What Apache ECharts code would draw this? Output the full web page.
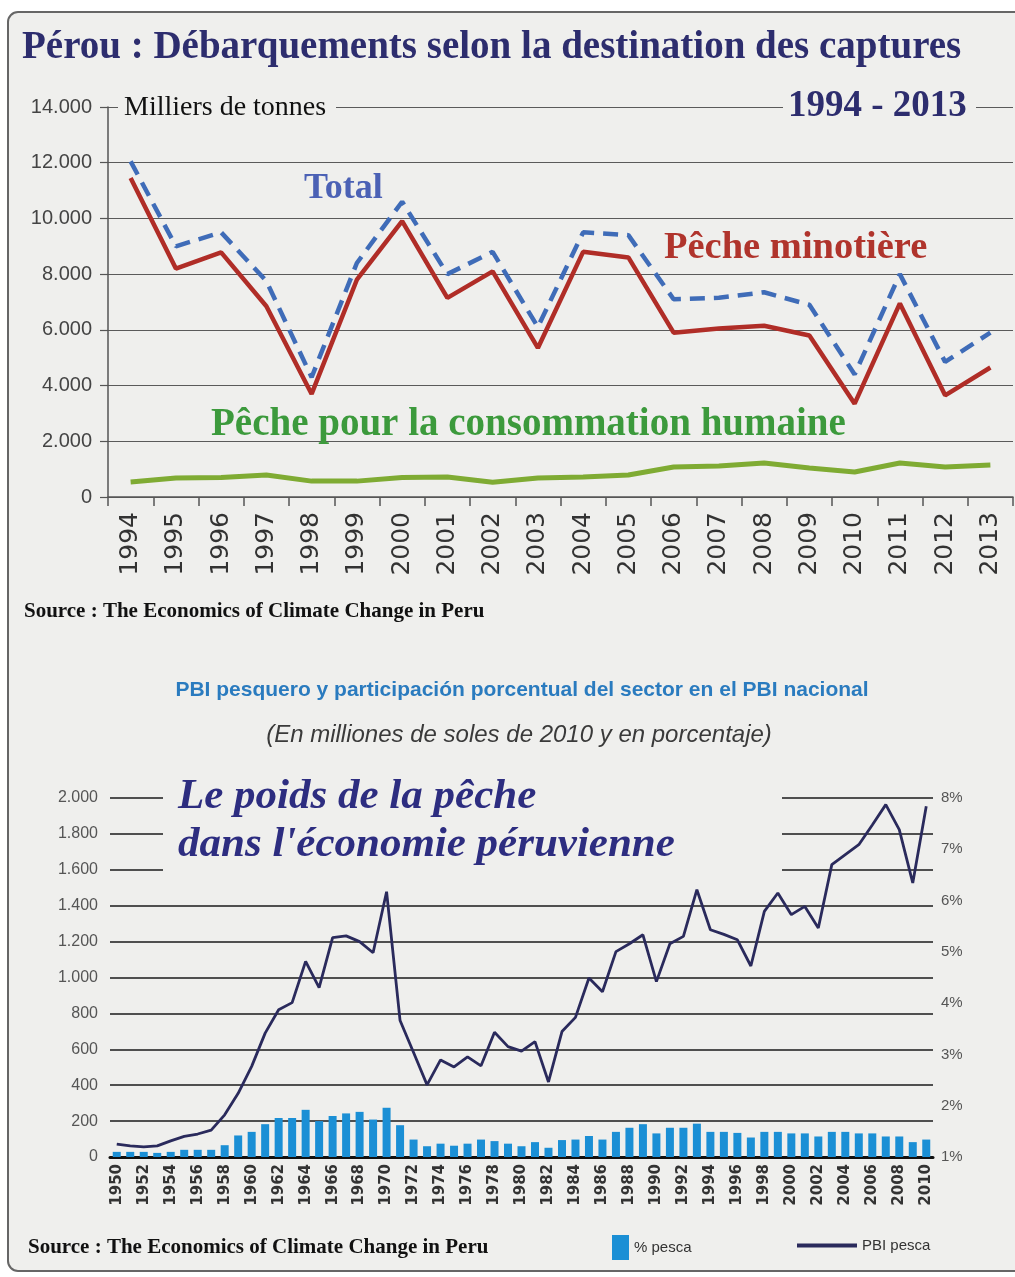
<!DOCTYPE html>
<html>
<head>
<meta charset="utf-8">
<script src="https://cdn.jsdelivr.net/npm/echarts@6/dist/echarts.min.js"></script>
<style>
html,body{margin:0;padding:0;background:#ffffff;}
#chart{width:1015px;height:1277px;}
</style>
</head>
<body>
<div id="chart"></div>
<script>
// ---- Top chart: landings by destination (thousand tonnes) ----
const topYears = ['1994','1995','1996','1997','1998','1999','2000','2001','2002','2003','2004','2005','2006','2007','2008','2009','2010','2011','2012','2013'];
const totalLandings = [12050, 9000, 9500, 7750, 4300, 8400, 10600, 8000, 8800, 6100, 9500, 9400, 7100, 7150, 7350, 6900, 4400, 8000, 4850, 5900];
const peche_minotiere = [11450, 8200, 8780, 6850, 3700, 7800, 9900, 7150, 8100, 5350, 8800, 8600, 5900, 6050, 6150, 5800, 3350, 6950, 3650, 4650];
const conso_humaine = [540, 680, 700, 790, 570, 570, 700, 720, 530, 680, 720, 790, 1080, 1110, 1220, 1040, 900, 1220, 1080, 1150];

// ---- Bottom chart: fishing GDP and share ----
const pbiYears = ['1950','1951','1952','1953','1954','1955','1956','1957','1958','1959',
  '1960','1961','1962','1963','1964','1965','1966','1967','1968','1969',
  '1970','1971','1972','1973','1974','1975','1976','1977','1978','1979',
  '1980','1981','1982','1983','1984','1985','1986','1987','1988','1989',
  '1990','1991','1992','1993','1994','1995','1996','1997','1998','1999',
  '2000','2001','2002','2003','2004','2005','2006','2007','2008','2009','2010'];
const pescaShare = [1.10,1.10,1.10,1.08,1.10,1.14,1.14,1.14,1.23,1.42,
  1.49,1.64,1.76,1.76,1.92,1.70,1.80,1.85,1.88,1.73,
  1.96,1.62,1.34,1.21,1.26,1.22,1.26,1.34,1.31,1.26,
  1.21,1.29,1.18,1.33,1.34,1.41,1.34,1.49,1.57,1.64,
  1.46,1.57,1.57,1.65,1.49,1.49,1.47,1.38,1.49,1.49,
  1.46,1.46,1.40,1.49,1.49,1.46,1.46,1.40,1.40,1.29,1.34];
const pbiPesca = [72,62,56,62,90,115,128,150,235,355,
  505,690,820,860,1090,943,1222,1232,1200,1138,
  1478,760,582,402,541,502,558,508,695,615,
  590,643,418,699,778,997,921,1144,1188,1238,
  977,1188,1229,1489,1266,1240,1210,1064,1368,1471,
  1350,1396,1276,1629,1685,1740,1850,1963,1824,1527,1954];

const leftTicksTop = [0,2000,4000,6000,8000,10000,12000,14000];

function thousands(v){
  const s = String(Math.round(v));
  return s.length > 3 ? s.slice(0, s.length-3) + '.' + s.slice(s.length-3) : s;
}

const BG = '#efefed';
const chart = echarts.init(document.getElementById('chart'), null, {renderer:'canvas'});

const option = {
  animation: false,
  backgroundColor: '#ffffff',
  grid: [
    {left: 108, right: 2, top: 107, bottom: 780},
    {left: 110, right: 82, top: 798, bottom: 120}
  ],
  xAxis: [
    {gridIndex: 0, type: 'category', data: topYears, boundaryGap: true,
     axisLine: {lineStyle: {color: '#555', width: 1.5}},
     axisTick: {show: true, length: 9, lineStyle: {color: '#555', width: 1.5}},
     axisLabel: {rotate: 90, fontFamily: 'DejaVu Sans', fontSize: 25, color: '#333', margin: 15}},
    {gridIndex: 1, type: 'category', data: pbiYears, boundaryGap: true,
     axisLine: {lineStyle: {color: '#111', width: 3}},
     axisTick: {show: false},
     axisLabel: {interval: 1, rotate: 90, fontFamily: 'DejaVu Sans', fontWeight: 'bold', fontSize: 15, color: '#333', margin: 7}}
  ],
  yAxis: [
    {gridIndex: 0, type: 'value', min: leftTicksTop[0], max: leftTicksTop[leftTicksTop.length-1], interval: 2000,
     axisLine: {show: true, lineStyle: {color: '#555', width: 1.5}},
     axisTick: {show: true, length: 8, lineStyle: {color: '#555', width: 1.2}},
     splitLine: {lineStyle: {color: '#5a5a5a', width: 1.2}},
     axisLabel: {formatter: thousands, fontFamily: 'Liberation Sans', fontSize: 20, color: '#444', margin: 16}},
    {gridIndex: 1, type: 'value', min: 0, max: 2000, interval: 200,
     axisLine: {show: false}, axisTick: {show: false},
     splitLine: {lineStyle: {color: '#1a1a1a', width: 1.6}},
     axisLabel: {formatter: thousands, fontFamily: 'Liberation Sans', fontSize: 16, color: '#555', margin: 12}},
    {gridIndex: 1, type: 'value', position: 'right', min: 1, max: 8, interval: 1,
     axisLine: {show: false}, axisTick: {show: false}, splitLine: {show: false},
     axisLabel: {formatter: '{value}%', fontFamily: 'Liberation Sans', fontSize: 15, color: '#555', margin: 8}}
  ],
  legend: [
    {data: [{name: '% pesca', icon: 'rect'}], left: 612, top: 1235, padding: 0, selectedMode: false,
     itemWidth: 17, itemHeight: 25,
     textStyle: {fontFamily: 'Liberation Sans', fontSize: 15, color: '#333'}},
    {data: [{name: 'PBI pesca', icon: 'rect'}], left: 797, top: 1238, padding: 0, selectedMode: false,
     itemWidth: 60, itemHeight: 4,
     textStyle: {fontFamily: 'Liberation Sans', fontSize: 15, color: '#333'}}
  ],
  series: [
    {name: 'Total', type: 'line', xAxisIndex: 0, yAxisIndex: 0, data: totalLandings,
     showSymbol: false, z: 3, lineStyle: {color: '#3f6cb8', width: 4.5, type: [15, 9]}},
    {name: 'Pêche minotière', type: 'line', xAxisIndex: 0, yAxisIndex: 0, data: peche_minotiere,
     showSymbol: false, z: 4, lineStyle: {color: '#b02d27', width: 4.5}},
    {name: 'Pêche pour la consommation humaine', type: 'line', xAxisIndex: 0, yAxisIndex: 0, data: conso_humaine,
     showSymbol: false, z: 3, lineStyle: {color: '#7fab33', width: 5}},
    {name: '% pesca', type: 'bar', xAxisIndex: 1, yAxisIndex: 2, data: pescaShare,
     barWidth: 8, z: 2, itemStyle: {color: '#1b8fd5'}},
    {name: 'PBI pesca', type: 'line', xAxisIndex: 1, yAxisIndex: 1, data: pbiPesca,
     showSymbol: false, z: 5, itemStyle: {color: '#2a2a5c'}, lineStyle: {color: '#2a2a5c', width: 2.8}}
  ],
  graphic: [
    {type: 'rect', silent: true, z: -10, shape: {x: 8, y: 12, width: 1040, height: 1259, r: 10},
     style: {fill: BG, stroke: '#666', lineWidth: 2}},
    // title
    {type: 'text', silent: true, z: 10, style: {text: 'Pérou : Débarquements selon la destination des captures',
      x: 22, y: 48, font: 'bold 39px "Liberation Serif"', fill: '#2d2d6e', textVerticalAlign: 'middle', verticalAlign: 'middle'}},
    // masks on the 14.000 line
    {type: 'rect', silent: true, z: 1, shape: {x: 118, y: 94, width: 218, height: 26}, style: {fill: BG}},
    {type: 'rect', silent: true, z: 1, shape: {x: 783, y: 88, width: 193, height: 36}, style: {fill: BG}},
    {type: 'text', silent: true, z: 10, style: {text: 'Milliers de tonnes', x: 124, y: 108,
      font: '28px "Liberation Serif"', fill: '#111', textVerticalAlign: 'middle', verticalAlign: 'middle'}},
    {type: 'text', silent: true, z: 10, style: {text: '1994 - 2013', x: 788, y: 106,
      font: 'bold 37px "Liberation Serif"', fill: '#2d2d6e', textVerticalAlign: 'middle', verticalAlign: 'middle'}},
    {type: 'text', silent: true, z: 10, style: {text: 'Total', x: 304, y: 189,
      font: 'bold 36px "Liberation Serif"', fill: '#4b61b5', textVerticalAlign: 'middle', verticalAlign: 'middle'}},
    {type: 'text', silent: true, z: 10, style: {text: 'Pêche minotière', x: 664, y: 248,
      font: 'bold 38.5px "Liberation Serif"', fill: '#b0342c', textVerticalAlign: 'middle', verticalAlign: 'middle'}},
    {type: 'text', silent: true, z: 10, style: {text: 'Pêche pour la consommation humaine', x: 211, y: 425,
      font: 'bold 39px "Liberation Serif"', fill: '#3c9a3c', textVerticalAlign: 'middle', verticalAlign: 'middle'}},
    {type: 'text', silent: true, z: 10, style: {text: 'Source : The Economics of Climate Change in Peru', x: 24, y: 612,
      font: 'bold 21px "Liberation Serif"', fill: '#111', textVerticalAlign: 'middle', verticalAlign: 'middle'}},
    // bottom titles
    {type: 'text', silent: true, z: 10, style: {text: 'PBI pesquero y participación porcentual del sector en el PBI nacional', x: 522, y: 690,
      font: 'bold 21px "Liberation Sans"', fill: '#2a7bbf', textAlign: 'center', align: 'center', textVerticalAlign: 'middle', verticalAlign: 'middle'}},
    {type: 'text', silent: true, z: 10, style: {text: '(En milliones de soles de 2010 y en porcentaje)', x: 519, y: 735,
      font: 'italic 24px "Liberation Sans"', fill: '#3a3a3a', textAlign: 'center', align: 'center', textVerticalAlign: 'middle', verticalAlign: 'middle'}},
    {type: 'rect', silent: true, z: 1, shape: {x: 163, y: 782, width: 619, height: 96}, style: {fill: BG}},
    {type: 'text', silent: true, z: 10, style: {text: 'Le poids de la pêche', x: 178, y: 797,
      font: 'italic bold 43px "Liberation Serif"', fill: '#2d2d80', textVerticalAlign: 'middle', verticalAlign: 'middle'}},
    {type: 'text', silent: true, z: 10, style: {text: "dans l'économie péruvienne", x: 178, y: 845,
      font: 'italic bold 43px "Liberation Serif"', fill: '#2d2d80', textVerticalAlign: 'middle', verticalAlign: 'middle'}},
    {type: 'text', silent: true, z: 10, style: {text: 'Source : The Economics of Climate Change in Peru', x: 28, y: 1248,
      font: 'bold 21px "Liberation Serif"', fill: '#111', textVerticalAlign: 'middle', verticalAlign: 'middle'}}
  ]
};
chart.setOption(option);
</script>
</body>
</html>
